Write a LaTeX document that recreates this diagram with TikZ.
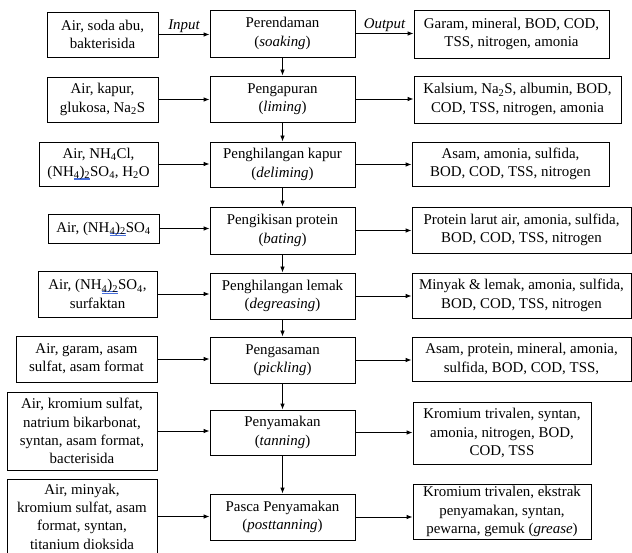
\documentclass[tikz,border=0pt]{standalone}
\usepackage{fontspec}
\setmainfont{Liberation Serif}
\usetikzlibrary{arrows.meta}
\definecolor{spellblue}{RGB}{70,110,220}
\newcommand{\spellmark}[1]{\setbox0\hbox{#1}\rlap{\color{spellblue}\raisebox{-1.6pt}{\rule{\wd0}{0.45pt}}}\rlap{\color{spellblue}\raisebox{-3.2pt}{\rule{\wd0}{0.45pt}}}\box0}
\tikzset{
  box/.style={draw, line width=0.8pt, inner sep=0pt, align=center,
    font=\fontsize{14.9}{18.3}\selectfont},
  cbox/.style={box, minimum width=145pt},
  arr/.style={line width=0.8pt, -{Latex[length=6pt,width=4.5pt]}},
  lbl/.style={inner sep=1pt, font=\fontsize{14.9}{18.3}\selectfont\itshape},
}
\begin{document}
\begin{tikzpicture}[x=1pt,y=-1pt]
\useasboundingbox (0,0) rectangle (632,553);
% row 1
\node[box, minimum width=111pt, minimum height=45pt] (L1) at (102.5,34.5) {Air, soda abu,\\bakterisida};
\node[cbox, minimum height=47pt] (C1) at (282.5,33.5) {Perendaman\\(\textit{soaking})};
\node[box, minimum width=195pt, minimum height=48pt] (R1) at (511.5,34) {Garam, mineral, BOD, COD,\\TSS, nitrogen, amonia};
% row 2
\node[box, minimum width=111pt, minimum height=45pt] (L2) at (102.5,99.5) {Air, kapur,\\glukosa, Na\textsubscript{2}S};
\node[cbox, minimum height=46pt] (C2) at (282.5,99) {Pengapuran\\(\textit{liming})};
\node[box, minimum width=207pt, minimum height=47pt] (R2) at (517.5,99.5) {Kalsium, Na\textsubscript{2}S, albumin, BOD,\\COD, TSS, nitrogen, amonia};
% row 3
\node[box, minimum width=119pt, minimum height=44pt] (L3) at (98.5,164) {Air, NH\textsubscript{4}Cl,\\(NH\spellmark{\textsubscript{4})\textsubscript{2}}SO\textsubscript{4}, H\textsubscript{2}O};
\node[cbox, minimum height=45pt] (C3) at (282.5,164.5) {Penghilangan kapur\\(\textit{deliming})};
\node[box, minimum width=197pt, minimum height=44pt] (R3) at (510.5,164) {Asam, amonia, sulfida,\\BOD, COD, TSS, nitrogen};
% row 4
\node[box, minimum width=111pt, minimum height=29pt] (L4) at (103.5,228.5) {Air, (NH\spellmark{\textsubscript{4})\textsubscript{2}}SO\textsubscript{4}};
\node[cbox, minimum height=47pt] (C4) at (282.5,230.5) {Pengikisan protein\\(\textit{bating})};
\node[box, minimum width=219pt, minimum height=46pt] (R4) at (521.5,230) {Protein larut air, amonia, sulfida,\\BOD, COD, TSS, nitrogen};
% row 5
\node[box, minimum width=119pt, minimum height=46pt] (L5) at (97.5,294) {Air, (NH\spellmark{\textsubscript{4})\textsubscript{2}}SO\textsubscript{4},\\surfaktan};
\node[cbox, minimum height=46pt] (C5) at (282.5,296) {Penghilangan lemak\\(\textit{degreasing})};
\node[box, minimum width=219pt, minimum height=45pt] (R5) at (521.5,295.5) {Minyak \& lemak, amonia, sulfida,\\BOD, COD, TSS, nitrogen};
% row 6
\node[box, minimum width=141pt, minimum height=46pt] (L6) at (86.5,359) {Air, garam, asam\\sulfat, asam format};
\node[cbox, minimum height=46pt] (C6) at (282.5,360) {Pengasaman\\(\textit{pickling})};
\node[box, minimum width=219pt, minimum height=44pt] (R6) at (521.5,359) {Asam, protein, mineral, amonia,\\sulfida, BOD, COD, TSS,};
% row 7
\node[box, minimum width=150pt, minimum height=78pt] (L7) at (82,431) {Air, kromium sulfat,\\natrium bikarbonat,\\syntan, asam format,\\bacterisida};
\node[cbox, minimum height=45pt] (C7) at (282.5,432.5) {Penyamakan\\(\textit{tanning})};
\node[box, minimum width=178pt, minimum height=62pt] (R7) at (502,433) {Kromium trivalen, syntan,\\amonia, nitrogen, BOD,\\COD, TSS};
% row 8
\node[box, minimum width=150pt, minimum height=75pt] (L8) at (82,516.5) {Air, minyak,\\kromium sulfat, asam\\format, syntan,\\titanium dioksida};
\node[cbox, minimum height=46pt] (C8) at (282.5,517) {Pasca Penyamakan\\(\textit{posttanning})};
\node[box, minimum width=178pt, minimum height=55pt] (R8) at (502,511.5) {Kromium trivalen, ekstrak\\penyamakan, syntan,\\pewarna, gemuk (\textit{grease})};
% connectors
\draw[arr] (L1.east) -- node[lbl, above] (inlbl) {Input} (L1.east -| C1.west);
\draw[arr] (C1.east) -- node[lbl, above] (outlbl) {Output} (C1.east -| R1.west);
\foreach \i in {2,...,8} {
  \draw[arr] (L\i.east) -- (L\i.east -| C\i.west);
  \draw[arr] (C\i.east) -- (C\i.east -| R\i.west);
}
\foreach \i/\j in {1/2,2/3,3/4,4/5,5/6,6/7,7/8} {
  \draw[arr] (C\i.south) -- (C\j.north);
}
\end{tikzpicture}
\end{document}
